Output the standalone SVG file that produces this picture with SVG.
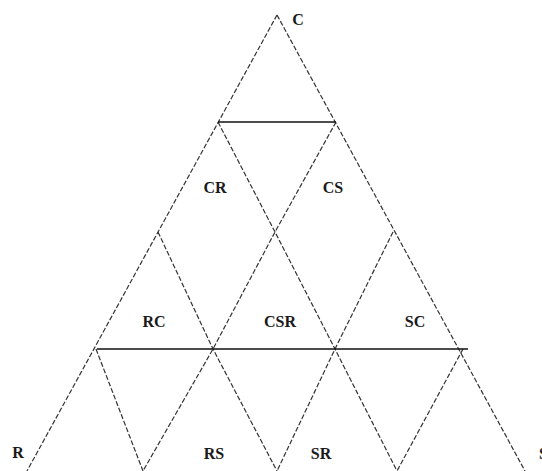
<svg xmlns="http://www.w3.org/2000/svg" width="542" height="471" viewBox="0 0 542 471">
<style>
.d{stroke:#333;stroke-width:1.2;stroke-dasharray:5 2;fill:none}
.s{stroke:#111;stroke-width:1.6;fill:none}
text{font-family:"Liberation Serif","Times New Roman",serif;font-weight:bold;font-size:16px;fill:#1a1a1a}
</style>
<rect width="542" height="471" fill="#fff"/>
<g id="connectors">
<line class="d" x1="277" y1="15" x2="27" y2="471"/>
<line class="d" x1="277" y1="15" x2="525" y2="471"/>
<polyline class="d" points="336,122 275,232 213,349 143,471"/>
<polyline class="d" points="393,232 335,349 277,471"/>
<polyline class="d" points="463,349 397,471"/>
<polyline class="d" points="218,122 275,232 335,349 397,471"/>
<polyline class="d" points="158,232 213,349 277,471"/>
<polyline class="d" points="96,349 143,471"/>
<line class="s" x1="218" y1="122" x2="336" y2="122"/>
<line class="s" x1="97" y1="349" x2="468" y2="349"/>
</g>
<g id="C"><text x="298" y="25" text-anchor="middle">C</text></g>
<g id="CR"><text x="215" y="193" text-anchor="middle">CR</text></g>
<g id="CS"><text x="333" y="193" text-anchor="middle">CS</text></g>
<g id="RC"><text x="154" y="327" text-anchor="middle">RC</text></g>
<g id="CSR"><text x="280" y="327" text-anchor="middle">CSR</text></g>
<g id="SC"><text x="415" y="327" text-anchor="middle">SC</text></g>
<g id="R"><text x="18" y="458" text-anchor="middle">R</text></g>
<g id="RS"><text x="214" y="459" text-anchor="middle">RS</text></g>
<g id="SR"><text x="321" y="459" text-anchor="middle">SR</text></g>
<g id="S"><text x="539" y="459">S</text></g>
</svg>
